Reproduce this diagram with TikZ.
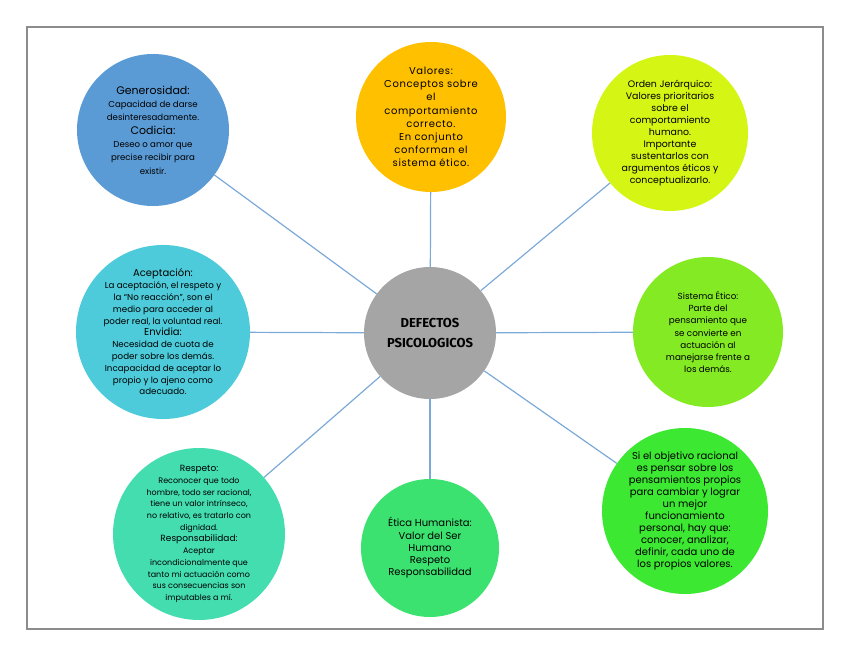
\documentclass[tikz,border=0pt]{standalone}
\usepackage{fontspec}
\setmainfont{Poppins}
\newfontfamily\hubfont{Fira Sans}
\definecolor{linkblue}{HTML}{7BA9D8}
\definecolor{framegray}{HTML}{8C8C8C}
\definecolor{genblue}{HTML}{5B9BD5}
\definecolor{valorange}{HTML}{FFC000}
\definecolor{ordlime}{HTML}{D5F514}
\definecolor{acecyan}{HTML}{4DCBDA}
\definecolor{sisgreen}{HTML}{84EA24}
\definecolor{resteal}{HTML}{43DDB0}
\definecolor{etigreen}{HTML}{3BE270}
\definecolor{objgreen}{HTML}{3CE832}
\definecolor{hubgray}{HTML}{A5A5A5}
\begin{document}
\begin{tikzpicture}[x=1pt, y=-1pt,
  bubble/.style={circle, inner sep=0pt, align=center, text=black},
  link/.style={draw=linkblue, line width=1.2pt}]
  \useasboundingbox (0,0) rectangle (848,655);
  \draw[framegray, line width=1.4pt] (27,27) rectangle (823,629);

  % Hub
  \node[bubble, fill=hubgray, minimum size=132pt, font=\hubfont\bfseries\fontsize{13}{20}\selectfont] (hub) at (430,333) {DEFECTOS\\PSICOLOGICOS};

  % Top row
  \node[bubble, fill=genblue, minimum size=152pt, font=\fontsize{8.6}{13.3}\selectfont] (gen) at (153,130)
    {{\fontsize{11}{13.3}\selectfont Generosidad:}\\Capacidad de darse\\desinteresadamente.\\{\fontsize{11}{13.3}\selectfont Codicia:}\\Deseo o amor que\\precise recibir para\\existir.};
  \node[bubble, fill=valorange, minimum size=150pt, font=\addfontfeatures{LetterSpace=6}\fontsize{10}{13.2}\selectfont] (val) at (431,117)
    {Valores:\\Conceptos sobre\\el\\comportamiento\\correcto.\\En conjunto\\conforman el\\sistema ético.};
  \node[bubble, fill=ordlime, minimum size=156pt, font=\fontsize{9.4}{12}\selectfont] (ord) at (670,133)
    {Orden Jerárquico:\\Valores prioritarios\\sobre el\\comportamiento\\humano.\\Importante\\sustentarlos con\\argumentos éticos y\\conceptualizarlo.};

  % Middle row
  \node[bubble, fill=acecyan, minimum size=174pt, font=\fontsize{8.7}{11.8}\selectfont] (ace) at (163,332)
    {{\fontsize{10}{11.8}\selectfont Aceptación:}\\La aceptación, el respeto y\\la “No reacción”, son el\\medio para acceder al\\poder real, la voluntad real.\\{\fontsize{10}{11.8}\selectfont Envidia:}\\Necesidad de cuota de\\poder sobre los demás.\\Incapacidad de aceptar lo\\propio y lo ajeno como\\adecuado.};
  \node[bubble, fill=sisgreen, minimum size=150pt, font=\fontsize{8.8}{12.2}\selectfont] (sis) at (708,332)
    {Sistema Ético:\\Parte del\\pensamiento que\\se convierte en\\actuación al\\manejarse frente a\\los demás.};

  % Bottom row
  \node[bubble, fill=resteal, minimum size=166pt, font=\fontsize{8}{11.7}\selectfont] (res) at (199,534)
    {{\fontsize{9}{11.7}\selectfont Respeto:}\\Reconocer que todo\\hombre, todo ser racional,\\tiene un valor intrínseco,\\no relativo, es tratarlo con\\dignidad.\\{\fontsize{9}{11.7}\selectfont Responsabilidad:}\\Aceptar\\incondicionalmente que\\tanto mi actuación como\\sus consecuencias son\\imputables a mí.};
  \node[bubble, fill=etigreen, minimum size=138pt, font=\fontsize{10}{12.2}\selectfont] (eti) at (430,548)
    {Ética Humanista:\\Valor del Ser\\Humano\\Respeto\\Responsabilidad};
  \node[bubble, fill=objgreen, minimum size=166pt, font=\fontsize{10}{12}\selectfont] (obj) at (685,511)
    {Si el objetivo racional\\es pensar sobre los\\pensamientos propios\\para cambiar y lograr\\un mejor\\funcionamiento\\personal, hay que:\\conocer, analizar,\\definir, cada uno de\\los propios valores.};

  % Spokes
  \foreach \leaf in {gen, val, ord, ace, sis, res, eti, obj}
    \draw[link] (hub) -- (\leaf);
\end{tikzpicture}
\end{document}
